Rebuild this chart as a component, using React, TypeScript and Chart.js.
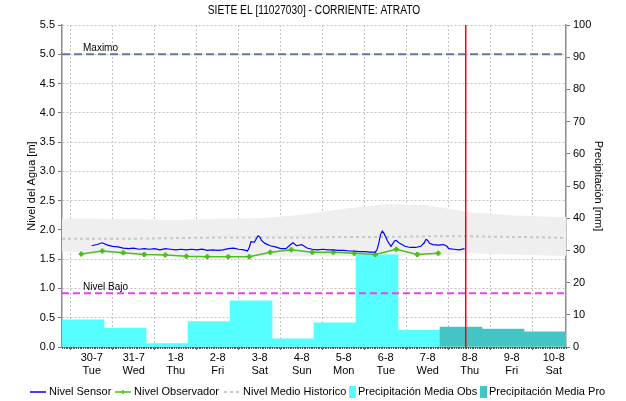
import { useEffect, useRef } from 'react';
import { Chart, registerables } from 'chart.js';

Chart.register(...registerables);

const FONT = "'Liberation Sans', Arial, sans-serif";

const chartTitle = 'SIETE EL [11027030] - CORRIENTE: ATRATO';
const leftAxisTitle = 'Nivel del Agua [m]';
const rightAxisTitle = 'Precipitación [mm]';

// x axis in hours since 30-7 00:00
const axisStartHour = -17;
const axisEndHour = 271;
const dayTickHours = [0, 24, 48, 72, 96, 120, 144, 168, 192, 216, 240, 264];
const dayLabels = ['30-7', '31-7', '1-8', '2-8', '3-8', '4-8', '5-8', '6-8', '7-8', '8-8', '9-8', '10-8'];
const weekdayLabels = ['Tue', 'Wed', 'Thu', 'Fri', 'Sat', 'Sun', 'Mon', 'Tue', 'Wed', 'Thu', 'Fri', 'Sat'];

const sensorHours = [
  0, 3, 6, 9, 12, 15, 18, 21, 24, 27, 30, 33, 36, 39, 42, 45, 48, 51, 54, 57, 60, 63, 66, 69, 72, 75, 78, 81, 84, 87,
  89, 90, 91, 93, 94, 95, 96, 97, 99, 102, 105, 108, 111, 114, 115, 117, 120, 123, 126, 129, 132, 135, 138, 141, 144,
  147, 150, 153, 156, 159, 162, 163, 164, 165, 166, 167, 168, 169, 171, 173, 174, 176, 179, 182, 185, 188, 190, 191,
  192, 193, 195, 198, 201, 203, 204, 207, 210, 213,
];
const sensorLevels = [
  1.73, 1.75, 1.78, 1.74, 1.72, 1.71, 1.69, 1.68, 1.69, 1.67, 1.68, 1.67, 1.68, 1.66, 1.68, 1.67, 1.66, 1.67, 1.66, 1.67,
  1.66, 1.67, 1.65, 1.66, 1.65, 1.66, 1.68, 1.69, 1.67, 1.66,
  1.64, 1.70, 1.80, 1.79, 1.85, 1.90, 1.88, 1.82, 1.77, 1.73, 1.71, 1.68, 1.68, 1.76, 1.78, 1.73, 1.75, 1.69, 1.67,
  1.66, 1.67, 1.66, 1.66, 1.65, 1.65,
  1.64, 1.64, 1.63, 1.63, 1.62, 1.62, 1.66, 1.77, 1.92, 1.98, 1.94, 1.88, 1.81, 1.72, 1.81, 1.82, 1.77, 1.72, 1.70,
  1.70, 1.72, 1.78, 1.84,
  1.82, 1.77, 1.75, 1.74, 1.75, 1.72, 1.68, 1.67, 1.66, 1.68,
];

const observerHours = [-6, 6, 18, 30, 42, 54, 66, 78, 90, 102, 114, 126, 138, 150, 162, 174, 186, 198];
const observerLevels = [1.59, 1.64, 1.61, 1.58, 1.57, 1.55, 1.54, 1.54, 1.54, 1.62, 1.66, 1.62, 1.62, 1.6, 1.58, 1.67, 1.58, 1.6];

const historicHours = [-17, 0, 24, 48, 72, 96, 120, 144, 168, 192, 216, 240, 264, 271];
const historicUpper = [2.19, 2.19, 2.18, 2.17, 2.19, 2.2, 2.26, 2.36, 2.44, 2.42, 2.3, 2.25, 2.22, 2.22];
const historicLower = [1.63, 1.62, 1.58, 1.56, 1.55, 1.55, 1.55, 1.55, 1.55, 1.57, 1.6, 1.58, 1.56, 1.56];
const historicMean = [1.85, 1.85, 1.85, 1.86, 1.87, 1.87, 1.87, 1.88, 1.88, 1.89, 1.89, 1.88, 1.87, 1.86];

const precipObsHours = [-5, 19, 43, 67, 91, 115, 139, 163, 187];
const precipObsMm = [8.4, 5.9, 1.1, 7.9, 14.3, 2.5, 7.5, 28.6, 5.2];
const precipProHours = [211, 235, 259];
const precipProMm = [6.2, 5.6, 4.7];

const maxLevel = 5.0;
const lowLevel = 0.92;
const nowHour = 213.7;
const levelMax = 5.5;
const precipMax = 100;

const COLORS = {
  sensor: '#0000ff',
  observer: '#4cbf1f',
  mean: '#c8c8c8',
  band: '#efefef',
  obs: '#55ffff',
  pro: '#44c5c5',
  max: '#6675a3',
  low: '#ee40ee',
  now: '#ff0000',
  grid: '#c4c4c4',
  axis: '#8c8c8c',
};

const pts = (xs: number[], ys: number[]) => xs.map((x, i) => ({ x, y: ys[i] }));

const decorPlugin = {
  id: 'decor',
  afterDraw(chart: any) {
    const ctx = chart.ctx;
    const area = chart.chartArea;
    const xs = chart.scales.x;
    const ys = chart.scales.y;
    ctx.save();
    // title (condensed to match the reference font)
    ctx.fillStyle = '#000';
    ctx.font = `12px ${FONT}`;
    ctx.textAlign = 'center';
    ctx.textBaseline = 'middle';
    ctx.save();
    ctx.translate((area.left + area.right) / 2, 11);
    ctx.scale(0.85, 1);
    ctx.fillText(chartTitle, 0, 0);
    ctx.restore();
    // hourly minor ticks
    ctx.strokeStyle = '#555';
    ctx.lineWidth = 1;
    ctx.beginPath();
    for (let h = axisStartHour; h <= axisEndHour; h++) {
      const px = Math.round(xs.getPixelForValue(h)) + 0.5;
      ctx.moveTo(px, area.bottom);
      ctx.lineTo(px, area.bottom + 2);
    }
    ctx.stroke();
    // reference labels
    ctx.font = `10px ${FONT}`;
    ctx.textAlign = 'left';
    ctx.textBaseline = 'bottom';
    ctx.fillStyle = '#000';
    ctx.fillText('Maximo', area.left + 21, ys.getPixelForValue(maxLevel) - 1);
    ctx.fillText('Nivel Bajo', area.left + 21, ys.getPixelForValue(lowLevel) - 1);
    // axis titles
    ctx.font = `11px ${FONT}`;
    ctx.textAlign = 'center';
    ctx.textBaseline = 'middle';
    const cy = (area.top + area.bottom) / 2;
    ctx.save();
    ctx.translate(32, cy);
    ctx.rotate(-Math.PI / 2);
    ctx.fillText(leftAxisTitle, 0, 0);
    ctx.restore();
    ctx.save();
    ctx.translate(598, cy);
    ctx.rotate(Math.PI / 2);
    ctx.fillText(rightAxisTitle, 0, 0);
    ctx.restore();
    // legend
    const ly = 392;
    ctx.font = `11px ${FONT}`;
    ctx.textAlign = 'left';
    ctx.textBaseline = 'middle';
    ctx.fillStyle = '#000';
    ctx.lineWidth = 1.5;
    ctx.strokeStyle = COLORS.sensor;
    ctx.beginPath(); ctx.moveTo(30, ly); ctx.lineTo(46, ly); ctx.stroke();
    ctx.fillText('Nivel Sensor', 49, ly);
    ctx.strokeStyle = COLORS.observer;
    ctx.beginPath(); ctx.moveTo(115, ly); ctx.lineTo(131, ly); ctx.moveTo(123, ly - 2); ctx.lineTo(123, ly + 2); ctx.stroke();
    ctx.fillText('Nivel Observador', 134, ly);
    ctx.strokeStyle = COLORS.mean;
    ctx.lineWidth = 2;
    ctx.setLineDash([3, 3]);
    ctx.beginPath(); ctx.moveTo(224, ly); ctx.lineTo(240, ly); ctx.stroke();
    ctx.setLineDash([]);
    ctx.fillText('Nivel Medio Historico', 243, ly);
    ctx.fillStyle = COLORS.obs;
    ctx.fillRect(349, ly - 6, 7, 12);
    ctx.fillStyle = '#000';
    ctx.fillText('Precipitación Media Obs', 358, ly);
    ctx.fillStyle = COLORS.pro;
    ctx.fillRect(480, ly - 6, 7, 12);
    ctx.fillStyle = '#000';
    ctx.fillText('Precipitación Media Pro', 489, ly);
    ctx.restore();
  },
};

export default function App() {
  const ref = useRef<HTMLCanvasElement | null>(null);
  useEffect(() => {
    document.body.style.margin = '0';
    if (!ref.current) return;
    const chart = new Chart(ref.current, {
      type: 'line',
      data: {
        datasets: [
          {
            label: 'lower',
            data: pts(historicHours, historicLower),
            borderWidth: 0,
            pointRadius: 0,
            fill: false,
            order: 20,
          } as any,
          {
            label: 'upper',
            data: pts(historicHours, historicUpper),
            borderWidth: 0,
            pointRadius: 0,
            backgroundColor: COLORS.band,
            fill: '-1',
            order: 19,
          },
          {
            type: 'bar',
            label: 'Precipitación Media Obs',
            data: pts(precipObsHours, precipObsMm),
            backgroundColor: COLORS.obs,
            yAxisID: 'y2',
            grouped: false,
            barPercentage: 1,
            categoryPercentage: 1,
            order: 18,
          } as any,
          {
            type: 'bar',
            label: 'Precipitación Media Pro',
            data: pts(precipProHours, precipProMm),
            backgroundColor: COLORS.pro,
            yAxisID: 'y2',
            grouped: false,
            barPercentage: 1,
            categoryPercentage: 1,
            order: 17,
          } as any,
          {
            label: 'Nivel Medio Historico',
            data: pts(historicHours, historicMean),
            borderColor: COLORS.mean,
            borderWidth: 2,
            borderDash: [3, 3],
            pointRadius: 0,
            order: 16,
          },
          {
            label: 'Maximo',
            data: pts([axisStartHour, axisEndHour], [maxLevel, maxLevel]),
            borderColor: COLORS.max,
            borderWidth: 2,
            borderDash: [8, 4],
            pointRadius: 0,
            order: 15,
          },
          {
            label: 'Nivel Bajo',
            data: pts([axisStartHour, axisEndHour], [lowLevel, lowLevel]),
            borderColor: COLORS.low,
            borderWidth: 2,
            borderDash: [7, 4],
            pointRadius: 0,
            order: 14,
          },
          {
            label: 'Nivel Observador',
            data: pts(observerHours, observerLevels),
            borderColor: COLORS.observer,
            backgroundColor: COLORS.observer,
            borderWidth: 1.5,
            pointStyle: 'cross',
            pointRadius: 2.5,
            pointBorderWidth: 2.5,
            order: 13,
          },
          {
            label: 'Nivel Sensor',
            data: pts(sensorHours, sensorLevels),
            borderColor: COLORS.sensor,
            borderWidth: 1.2,
            pointRadius: 0,
            order: 12,
          },
          {
            label: 'now',
            data: pts([nowHour, nowHour], [0, levelMax]),
            borderColor: COLORS.now,
            borderWidth: 1.5,
            pointRadius: 0,
            order: 1,
          },
        ],
      },
      options: {
        responsive: false,
        animation: false,
        events: [],
        layout: { padding: { top: 25, bottom: 24, left: 0, right: 0 } },
        plugins: { legend: { display: false }, tooltip: { enabled: false }, title: { display: false } },
        scales: {
          x: {
            type: 'linear',
            min: axisStartHour,
            max: axisEndHour,
            offset: false,
            afterBuildTicks: (s: any) => {
              s.ticks = dayTickHours.map((v) => ({ value: v }));
            },
            afterFit: (s: any) => {
              s.height = 30;
            },
            ticks: {
              autoSkip: false,
              maxRotation: 0,
              padding: 1,
              color: '#000',
              font: { family: FONT, size: 11 },
              callback: (v: any) => {
                const i = dayTickHours.indexOf(Number(v));
                return i >= 0 ? [dayLabels[i], weekdayLabels[i]] : '';
              },
            },
            grid: { color: COLORS.grid, lineWidth: 1, tickLength: 3, tickColor: '#666', tickBorderDash: [] },
            border: { display: true, color: COLORS.axis, width: 1, dash: [2, 2] },
          },
          y: {
            type: 'linear',
            position: 'left',
            min: 0,
            max: levelMax,
            afterFit: (s: any) => {
              s.width = 62;
            },
            ticks: {
              stepSize: 0.5,
              padding: 3,
              color: '#000',
              font: { family: FONT, size: 11 },
              callback: (v: any) => Number(v).toFixed(1),
            },
            grid: { color: COLORS.grid, lineWidth: 1, tickLength: 4, tickColor: '#777', tickBorderDash: [] },
            border: { display: true, color: COLORS.axis, width: 1.5, dash: [2, 2] },
          },
          y2: {
            type: 'linear',
            position: 'right',
            min: 0,
            max: precipMax,
            afterFit: (s: any) => {
              s.width = 60;
            },
            ticks: {
              stepSize: 10,
              padding: 3,
              color: '#000',
              font: { family: FONT, size: 11 },
            },
            grid: { drawOnChartArea: false, tickLength: 4, tickColor: '#777' },
            border: { display: true, color: COLORS.axis, width: 1.5 },
          },
        },
      },
      plugins: [decorPlugin],
    } as any);
    return () => chart.destroy();
  }, []);
  return <canvas ref={ref} width={626} height={401} />;
}
